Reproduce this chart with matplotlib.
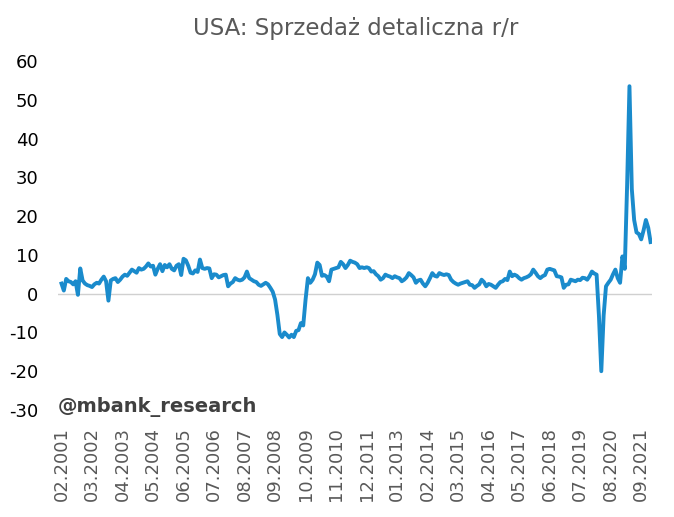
import numpy as np
import pandas as pd
from matplotlib import pyplot as plt

plt.rcParams['axes.unicode_minus'] = False

# US retail sales, y/y %, monthly 02.2001 - 01.2022
y2001 = [2.6, 0.8, 3.8, 3.2, 3.0, 2.4, 3.2, -0.3, 6.5, 3.4, 2.6]
y2002 = [2.2, 2.0, 1.7, 2.4, 2.8, 2.6, 3.6, 4.4, 3.2, -1.8, 3.4, 3.8]
y2003 = [4.0, 3.0, 3.6, 4.4, 4.9, 4.6, 5.4, 6.2, 5.8, 5.4, 6.6, 6.2]
y2004 = [6.4, 7.0, 7.8, 7.0, 7.2, 4.9, 6.4, 7.6, 5.8, 7.4, 6.8, 7.6]
y2005 = [6.4, 6.0, 7.2, 7.6, 4.8, 9.0, 8.6, 7.2, 5.4, 5.2, 6.0, 5.6]
y2006 = [8.8, 6.6, 6.4, 6.6, 6.5, 4.0, 5.0, 4.9, 4.2, 4.5, 4.8, 4.9]
y2007 = [1.9, 2.6, 3.0, 4.0, 3.6, 3.4, 3.6, 4.2, 5.7, 4.0, 3.6, 3.2]
y2008 = [3.0, 2.3, 2.0, 2.4, 2.8, 2.4, 1.5, 0.5, -1.5, -5.5, -10.4, -11.2]
y2009 = [-10.0, -10.6, -11.3, -10.6, -11.2, -9.6, -9.4, -7.6, -8.2, -1.5, 4.0, 2.8]
y2010 = [3.6, 5.0, 8.0, 7.4, 4.6, 4.8, 4.4, 3.2, 6.2, 6.4, 6.6, 6.8]
y2011 = [8.2, 7.6, 6.6, 7.4, 8.5, 8.2, 8.0, 7.6, 6.6, 6.8, 6.6, 6.8]
y2012 = [6.6, 5.7, 5.8, 5.0, 4.5, 3.6, 4.0, 4.9, 4.6, 4.4, 4.0, 4.5]
y2013 = [4.2, 4.0, 3.2, 3.6, 4.2, 5.3, 4.8, 4.2, 2.8, 3.4, 3.6, 2.6]
y2014 = [1.9, 2.8, 4.0, 5.3, 4.6, 4.4, 5.3, 5.0, 4.8, 5.0, 4.8, 3.6]
y2015 = [3.0, 2.6, 2.3, 2.6, 2.8, 3.0, 3.2, 2.3, 2.2, 1.5, 2.0, 2.4]
y2016 = [3.6, 3.0, 1.9, 2.5, 2.3, 1.9, 1.5, 2.3, 3.0, 3.2, 3.8, 3.5]
y2017 = [5.7, 4.5, 4.9, 4.6, 4.0, 3.6, 4.0, 4.2, 4.5, 5.0, 6.2, 5.4]
y2018 = [4.5, 4.0, 4.5, 4.8, 6.2, 6.4, 6.2, 6.0, 4.5, 4.4, 4.2, 1.5]
y2019 = [2.3, 2.4, 3.6, 3.4, 3.2, 3.6, 3.5, 4.1, 4.0, 3.6, 4.5, 5.7]
y2020 = [5.2, 4.9, -5.8, -20.0, -5.6, 1.9, 2.8, 3.6, 5.0, 6.2, 4.0, 2.8]
y2021 = [9.6, 6.4, 28.0, 53.5, 27.0, 19.0, 15.8, 15.4, 14.0, 16.3, 19.0, 17.0]
y2022 = [13.3]

values = (y2001 + y2002 + y2003 + y2004 + y2005 + y2006 + y2007 + y2008
          + y2009 + y2010 + y2011 + y2012 + y2013 + y2014 + y2015 + y2016
          + y2017 + y2018 + y2019 + y2020 + y2021 + y2022)
months = pd.date_range('2001-02-01', periods=len(values), freq='MS')
labels = [d.strftime('%m.%Y') for d in months]

fig = plt.figure(figsize=(6.74, 5.17), dpi=100)
ax = fig.add_axes([0.086, 0.207, 0.881, 0.675])

x = np.arange(len(values))
ax.plot(x, values, color='#1a8bcc', linewidth=2.8, solid_joinstyle='round')
ax.axhline(0, color='#d0d0d0', linewidth=1, zorder=0)

ax.set_xlim(-1.5, len(values) - 0.5)
ax.set_ylim(-30, 60)
ax.set_yticks(range(-30, 61, 10))
ax.set_xticks(x[::13])
ax.set_xticklabels(labels[::13], rotation=90, color='#595959', fontsize=13)
ax.tick_params(axis='y', labelsize=13, colors='black', length=0, pad=14)
ax.tick_params(axis='x', length=0, pad=12)
for s in ax.spines.values():
    s.set_visible(False)

fig.text(0.527, 0.945, 'USA: Sprzedaż detaliczna r/r', ha='center', va='center',
         fontsize=16.5, color='#595959')
fig.text(0.085, 0.213, '@mbank_research', ha='left', va='center',
         fontsize=14, fontweight='bold', color='#404040')

plt.savefig('out.png', dpi=100)
